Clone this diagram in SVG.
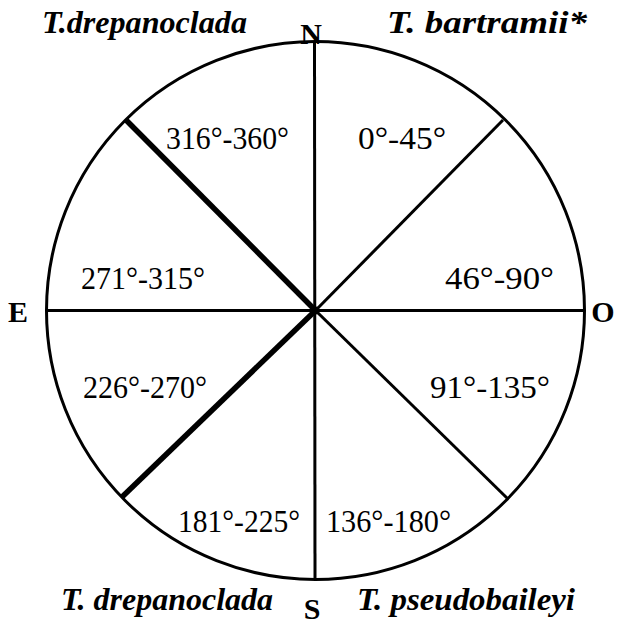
<svg xmlns="http://www.w3.org/2000/svg" width="617" height="624" viewBox="0 0 617 624">
<style>
.ln{stroke:#000;stroke-width:3;fill:none;stroke-linecap:butt}
.thick{stroke-width:5.5}
.deg{font-family:"Liberation Serif","Times New Roman",serif;font-size:31px;fill:#000}
.sp{font-family:"Liberation Serif","Times New Roman",serif;font-size:32px;font-weight:bold;font-style:italic;fill:#000}
.dir{font-family:"Liberation Serif","Times New Roman",serif;font-size:30px;font-weight:bold;fill:#000}
</style>
<rect width="617" height="624" fill="#fff"/>
<g id="connectors">
<circle class="ln" cx="315.5" cy="310.5" r="269" stroke-width="3.5"/>
<line class="ln" x1="314.5" y1="41" x2="315" y2="580"/>
<line class="ln" x1="46" y1="310.5" x2="585" y2="310.5"/>
<line class="ln" x1="470" y1="310.5" x2="584" y2="310.5" stroke-width="4.5"/>
<line class="ln thick" x1="126" y1="120" x2="315.5" y2="310.5"/>
<line class="ln thick" x1="122" y1="497" x2="315.5" y2="310.5"/>
<line class="ln" x1="503" y1="120" x2="315.5" y2="310.5"/>
<line class="ln" x1="508" y1="499" x2="315.5" y2="310.5"/>
<circle cx="315.5" cy="310.5" r="4" fill="#000"/>
</g>
<g id="sectors">
<text class="deg" x="166" y="149" textLength="123" lengthAdjust="spacingAndGlyphs">316°-360°</text>
<text class="deg" x="358" y="149" textLength="88" lengthAdjust="spacingAndGlyphs">0°-45°</text>
<text class="deg" x="81" y="289" textLength="124" lengthAdjust="spacingAndGlyphs">271°-315°</text>
<text class="deg" x="445" y="289" textLength="109" lengthAdjust="spacingAndGlyphs">46°-90°</text>
<text class="deg" x="83" y="398" textLength="124" lengthAdjust="spacingAndGlyphs">226°-270°</text>
<text class="deg" x="430" y="398" textLength="120" lengthAdjust="spacingAndGlyphs">91°-135°</text>
<text class="deg" x="178" y="532" textLength="122" lengthAdjust="spacingAndGlyphs">181°-225°</text>
<text class="deg" x="326" y="532" textLength="125" lengthAdjust="spacingAndGlyphs">136°-180°</text>
</g>
<g id="directions">
<text class="dir" x="311" y="44" text-anchor="middle">N</text>
<text class="dir" x="18" y="322" text-anchor="middle">E</text>
<text class="dir" x="603" y="322" text-anchor="middle">O</text>
<text class="dir" x="312" y="619" text-anchor="middle" font-size="27">S</text>
</g>
<g id="species">
<text class="sp" x="42" y="33" textLength="205" lengthAdjust="spacingAndGlyphs">T.drepanoclada</text>
<text class="sp" x="387" y="33" textLength="200" lengthAdjust="spacingAndGlyphs">T. bartramii*</text>
<text class="sp" x="61" y="610" textLength="212" lengthAdjust="spacingAndGlyphs">T. drepanoclada</text>
<text class="sp" x="357" y="610" textLength="218" lengthAdjust="spacingAndGlyphs">T. pseudobaileyi</text>
</g>
</svg>
